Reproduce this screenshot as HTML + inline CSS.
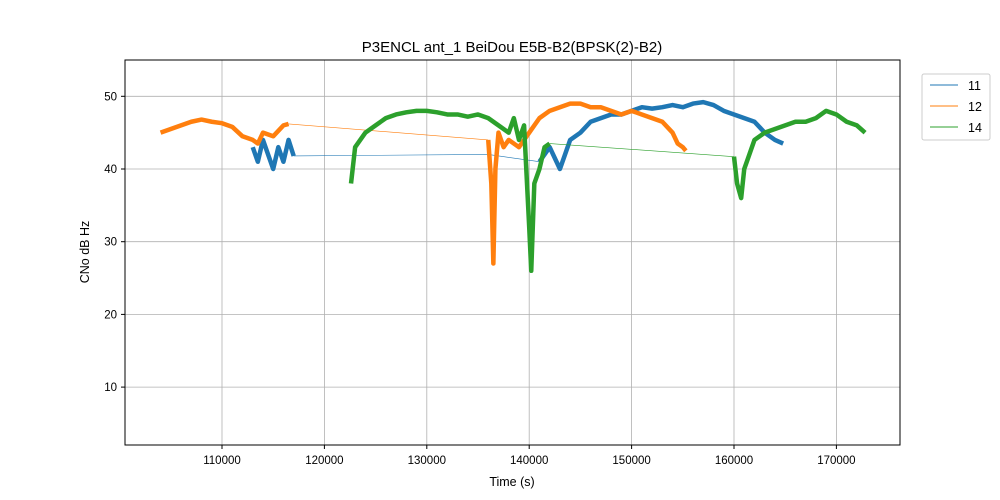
<!DOCTYPE html>
<html><head><meta charset="utf-8"><style>
html,body{margin:0;padding:0;background:#fff;}
svg{display:block;font-family:"Liberation Sans","DejaVu Sans",sans-serif;}
</style></head><body>
<svg id="chart" width="1000" height="500">
<rect x="0" y="0" width="1000" height="500" fill="#fff"/>
<g id="grid"></g>
<g id="series"></g>
<rect x="125" y="60" width="775" height="385" fill="none" stroke="#000" stroke-width="1"/>
<g id="ticks"></g>
<text x="512" y="52" text-anchor="middle" font-size="15">P3ENCL ant_1 BeiDou E5B-B2(BPSK(2)-B2)</text>
<text x="512" y="486" text-anchor="middle" font-size="12.5">Time (s)</text>
<text transform="translate(89,252) rotate(-90)" text-anchor="middle" font-size="12.5">CNo dB Hz</text>
<g>
<rect x="922" y="74" width="68" height="66" fill="#fff" stroke="#ccc" rx="2"/>
<g><line x1="930" y1="85" x2="958" y2="85" stroke="#1f77b4"/><text x="968" y="90" font-size="12.5">11</text></g>
<g><line x1="930" y1="106" x2="958" y2="106" stroke="#ff7f0e"/><text x="968" y="111" font-size="12.5">12</text></g>
<g><line x1="930" y1="127" x2="958" y2="127" stroke="#2ca02c"/><text x="968" y="132" font-size="12.5">14</text></g>
</g>
</svg>
<script>
const xTicks=[110000,120000,130000,140000,150000,160000,170000];
const yTicks=[10,20,30,40,50];
const t11=[113000,113500,114000,114500,115000,115500,116000,116500,117000,136000,141000,142000,143000,143500,144000,145000,146000,147000,148000,149000,150000,151000,152000,153000,154000,155000,156000,157000,158000,159000,160000,161000,162000,163000,164000,164800];
const v11=[43,41,44,42,40,43,41,44,41.8,42,41,43,40,42,44,45,46.5,47,47.5,47.5,48,48.5,48.3,48.5,48.8,48.5,49,49.2,48.8,48,47.5,47,46.5,45,44,43.5];
const t12=[104000,105000,106000,107000,108000,109000,110000,111000,112000,113000,113500,114000,115000,116000,116500,136000,136300,136500,136700,137000,137500,138000,139000,140000,141000,142000,143000,144000,145000,146000,147000,148000,149000,150000,151000,152000,153000,154000,154500,155000,155300];
const v12=[45,45.5,46,46.5,46.8,46.5,46.3,45.8,44.5,44,43.5,45,44.5,46,46.2,44,38,27,40,45,43,44,43,45,47,48,48.5,49,49,48.5,48.5,48,47.5,48,47.5,47,46.5,45,43.5,43,42.5];
const t14=[122600,123000,124000,125000,126000,127000,128000,129000,130000,131000,132000,133000,134000,135000,136000,137000,138000,138500,139000,139500,140000,140200,140500,141000,141500,142000,160000,160300,160700,161000,161500,162000,163000,164000,165000,166000,167000,168000,169000,170000,171000,172000,172800];
const v14=[38,43,45,46,47,47.5,47.8,48,48,47.8,47.5,47.5,47.2,47.5,47,46,45,47,44,46,32,26,38,40,43,43.5,41.7,38,36,40,42,44,45,45.5,46,46.5,46.5,47,48,47.5,46.5,46,45];
const X=v=>222+(v-110000)*0.01024;
const Y=v=>169-(v-40)*7.27;
const NS="http://www.w3.org/2000/svg";
const grid=document.getElementById('grid'),ticks=document.getElementById('ticks'),ser=document.getElementById('series');
function mk(tag,attrs,parent){const e=document.createElementNS(NS,tag);for(const k in attrs)e.setAttribute(k,attrs[k]);parent.appendChild(e);return e;}
xTicks.forEach(v=>{
 const g=mk('line',{x1:X(v),x2:X(v),y1:60,y2:445,stroke:'#b0b0b0','stroke-width':0.8},grid);
 
 
 mk('line',{x1:X(v),x2:X(v),y1:445,y2:449,stroke:'#000'},ticks);
 const t=mk('text',{x:X(v),y:464,'text-anchor':'middle','font-size':11.5},ticks);t.textContent=v;
 
 
});
yTicks.forEach(v=>{
 const g=mk('line',{x1:125,x2:900,y1:Y(v),y2:Y(v),stroke:'#b0b0b0','stroke-width':0.8},grid);
 
 
 mk('line',{x1:121,x2:125,y1:Y(v),y2:Y(v),stroke:'#000'},ticks);
 const t=mk('text',{x:117,y:Y(v)+4,'text-anchor':'end','font-size':11.5},ticks);t.textContent=v;
 
 
});
function draw(ts,vs,color,name){
 let segs=[],cur=[];
 for(let i=0;i<ts.length;i++){
  if(i>0&&ts[i]-ts[i-1]>4000){segs.push({pts:cur,thin:false});segs.push({pts:[cur[cur.length-1],[X(ts[i]),Y(vs[i])]],thin:true});cur=[];}
  cur.push([X(ts[i]),Y(vs[i])]);
 }
 segs.push({pts:cur,thin:false});
 segs.forEach(s=>{
  if(s.pts.length<2)return;
  const p=mk('polyline',{points:s.pts.map(q=>q.join(',')).join(' '),fill:'none',stroke:color,'stroke-width':s.thin?0.6:4.5,'stroke-linejoin':'round'},ser);
  
  
 });
}
draw(t11,v11,'#1f77b4','series-11-line');
draw(t12,v12,'#ff7f0e','series-12-line');
draw(t14,v14,'#2ca02c','series-14-line');
</script>
</body></html>
